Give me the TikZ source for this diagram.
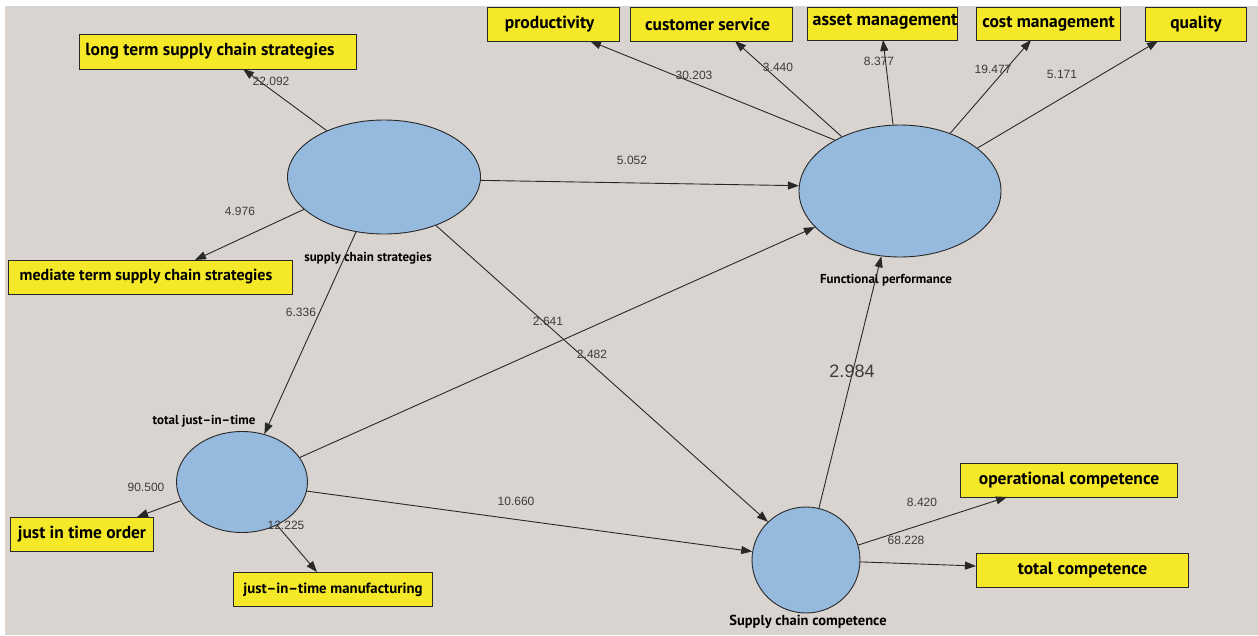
\documentclass[tikz,border=0pt]{standalone}
\usepackage{fontspec}
\setmainfont{Liberation Sans}
\newfontfamily\bxfont{PT Sans}
\usetikzlibrary{arrows.meta,shapes.geometric}
\definecolor{bgc}{RGB}{217,212,208}
\definecolor{ellc}{RGB}{150,185,222}
\definecolor{yelc}{RGB}{245,232,40}
\definecolor{linec}{RGB}{40,40,40}
\definecolor{numc}{RGB}{60,60,60}
\tikzset{
  ind/.style={draw=linec, line width=1pt, fill=yelc, rectangle, inner sep=0pt, font=\bxfont\bfseries\fontsize{17.5}{17.5}\selectfont},
  lv/.style={draw=linec, line width=0.9pt, fill=ellc, ellipse, inner sep=0pt},
  lvlab/.style={font=\bxfont\bfseries\fontsize{13}{13}\selectfont, text=black},
  num/.style={font=\fontsize{12}{12}\selectfont, text=numc},
  arr/.style={draw=linec, line width=0.9pt, -{Triangle[length=11pt,width=8pt]}},
}
\begin{document}
\begin{tikzpicture}[x=1pt,y=-1pt]
\useasboundingbox (0,0) rectangle (1258,635);
\fill[white] (0,0) rectangle (1258,635);
\fill[bgc] (5,6) rectangle (1258,635);

% latent variables
\node[lv, minimum width=193pt, minimum height=114pt] (scs) at (384,177) {};
\node[lv, minimum width=202pt, minimum height=132pt] (fp) at (900,191) {};
\node[lv, minimum width=131pt, minimum height=101pt] (jit) at (242,482) {};
\node[lv, minimum width=108pt, minimum height=106pt] (scc) at (806,560) {};

\node[lvlab] (scsl) at (368,258) {supply chain strategies};
\node[lvlab] (fpl) at (886,280) {Functional performance};
\node[lvlab] (jitl) at (204,421) {total just–in–time};
\node[lvlab, font=\bxfont\bfseries\fontsize{14.5}{14.5}\selectfont] (sccl) at (808,622) {Supply chain competence};

% indicators
\node[ind, minimum width=277pt, minimum height=35pt] (lt) at (217.5,51.5) {long term supply chain strategies\hspace*{15pt}};
\node[ind, minimum width=284pt, minimum height=34pt, font=\bxfont\bfseries\fontsize{16}{16}\selectfont] (mt) at (150,277) {mediate term supply chain strategies\hspace*{8pt}};
\node[ind, minimum width=132pt, minimum height=34pt, anchor=north west] (prod) at (487,7) {productivity\hspace*{8pt}};
\node[ind, minimum width=162pt, minimum height=34pt, anchor=north west] (cs) at (630,7) {customer service\hspace*{8pt}};
\node[ind, minimum width=150pt, minimum height=33pt, anchor=north west] (am) at (807,7) {};
\node[font=\bxfont\bfseries\fontsize{18}{18}\selectfont] (amt) at (885,22) {asset management};
\node[ind, minimum width=144pt, minimum height=33pt, anchor=north west] (cm) at (976,7) {cost management};
\node[ind, minimum width=101pt, minimum height=34pt, anchor=north west] (q) at (1145,7) {quality};
\node[ind, minimum width=143pt, minimum height=34pt, anchor=north west, font=\bxfont\bfseries\fontsize{17.4}{17.4}\selectfont] (jo) at (10,517) {just in time order};
\node[ind, minimum width=199pt, minimum height=34pt, anchor=north west, font=\bxfont\bfseries\fontsize{14.8}{14.8}\selectfont] (jm) at (233,572) {just–in–time manufacturing};
\node[ind, minimum width=217pt, minimum height=34pt, anchor=north west] (oc) at (960,463) {operational competence};
\node[ind, minimum width=212pt, minimum height=34pt, anchor=north west] (tc) at (976,553) {total competence};

% arrow end points on indicator boxes
\coordinate (lt-in) at (243,69);
\coordinate (mt-in) at (195,260);
\coordinate (prod-in) at (590,41);
\coordinate (cs-in) at (735,41);
\coordinate (am-in) at (883,40);
\coordinate (cm-in) at (1031,40);
\coordinate (q-in) at (1158,41);
\coordinate (jo-in) at (137,517);
\coordinate (jm-in) at (317,572);
\coordinate (oc-in) at (1007,497);
\coordinate (tc-in) at (976,566);

% structural paths
\draw[arr] (scs.358.8) -- (fp.177.7);
\draw[arr] (scs.243.9) -- (jit.65.3);
\draw[arr] (scs.317.9) -- (scc.135.7);
\draw[arr] (jit.23.3) -- (fp.203.3);
\draw[arr] (jit.352.2) -- (scc.171.6);
\draw[arr] (scc.76) -- (fp.254.7);

% measurement paths
\draw[arr] (scs.141.8) -- (lt-in);
\draw[arr] (scs.202.2) -- (mt-in);
\draw[arr] (fp.142.6) -- (prod-in);
\draw[arr] (fp.137.4) -- (cs-in);
\draw[arr] (fp.96.9) -- (am-in);
\draw[arr] (fp.49.2) -- (cm-in);
\draw[arr] (fp.29.7) -- (q-in);
\draw[arr] (jit.197.9) -- (jo-in);
\draw[arr] (jit.309.1) -- (jm-in);
\draw[arr] (scc.16.1) -- (oc-in);
\draw[arr] (scc.358) -- (tc-in);

% path coefficients
\node[num] (n1) at (271,81) {22.092};
\node[num] (n2) at (240,211) {4.976};
\node[num] (n3) at (301,312) {6.336};
\node[num] (n4) at (632,160) {5.052};
\node[num] (n5) at (694,75) {30.203};
\node[num] (n6) at (778,67) {3.440};
\node[num] (n7) at (879,61) {8.377};
\node[num] (n8) at (993,69) {19.477};
\node[num] (n9) at (1062,74) {5.171};
\node[num] (n10) at (548,321) {2.641};
\node[num] (n11) at (592,354) {2.482};
\node[num, font=\fontsize{18}{18}\selectfont] (n12) at (852,371) {2.984};
\node[num] (n13) at (146,487) {90.500};
\node[num] (n14) at (286,525) {12.225};
\node[num] (n15) at (516,501) {10.660};
\node[num] (n16) at (922,502) {8.420};
\node[num] (n17) at (906,540) {68.228};
\end{tikzpicture}
\end{document}
